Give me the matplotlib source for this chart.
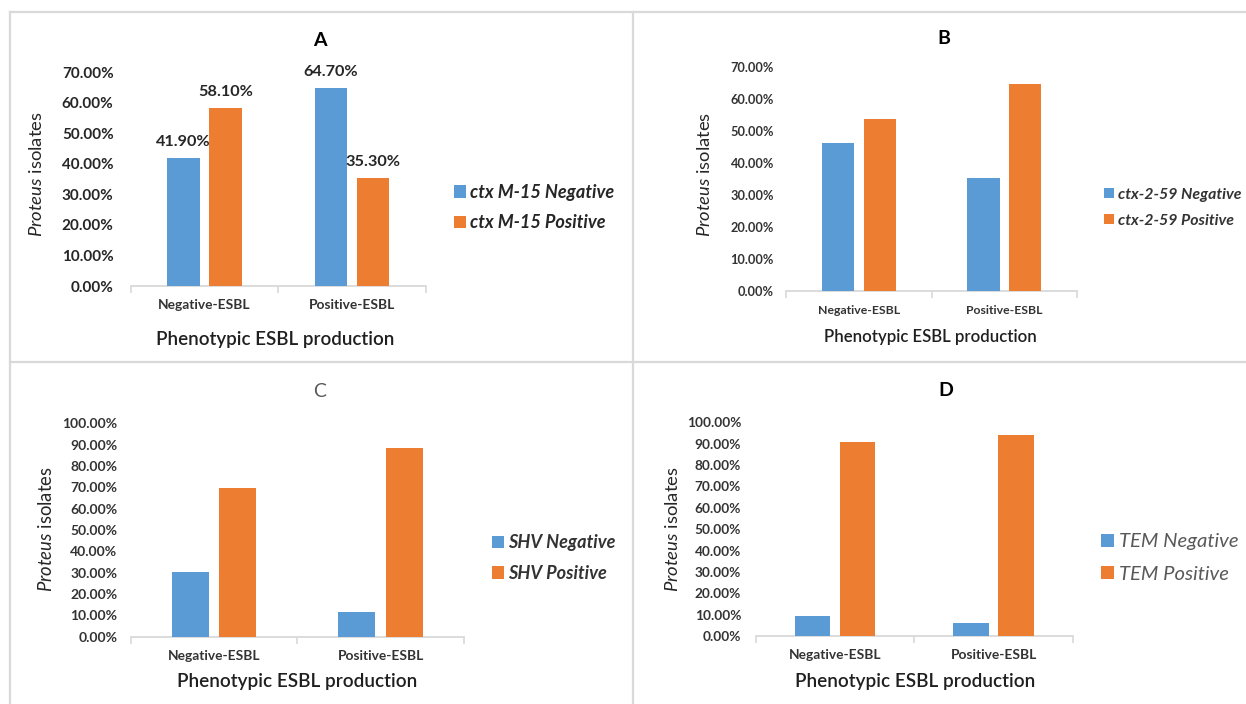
import matplotlib
matplotlib.use("Agg")
import matplotlib.pyplot as plt
from matplotlib.lines import Line2D
import numpy as np

# ---------------- data ----------------
categories = ["Negative-ESBL", "Positive-ESBL"]

a_series = ["ctx M-15 Negative", "ctx M-15 Positive"]
a_neg = [41.9, 64.7]
a_pos = [58.1, 35.3]

b_series = ["ctx-2-59 Negative", "ctx-2-59 Positive"]
b_neg = [46.4, 35.3]
b_pos = [53.6, 64.7]

c_series = ["SHV Negative", "SHV Positive"]
c_neg = [30.2, 11.8]
c_pos = [69.8, 88.2]

d_series = ["TEM Negative", "TEM Positive"]
d_neg = [9.4, 5.9]
d_pos = [90.6, 94.1]

a_ticks = [0, 10, 20, 30, 40, 50, 60, 70]
full_ticks = [0, 10, 20, 30, 40, 50, 60, 70, 80, 90, 100]

titles = ["A", "B", "C", "D"]
xlabel_text = "Phenotypic ESBL production"
ylabel_text = r"$\it{Proteus}$ isolates"

# ---------------- style ----------------
W, H = 1246, 704
BLUE = "#5B9BD5"
ORANGE = "#ED7D31"
GRID = "#D9D9D9"
TXT = "#333333"
FONT = "Lato"

plt.rcParams["font.family"] = [FONT, "DejaVu Sans"]
plt.rcParams["mathtext.fontset"] = "custom"
plt.rcParams["mathtext.rm"] = FONT
plt.rcParams["mathtext.it"] = FONT + ":italic"
plt.rcParams["mathtext.bf"] = FONT + ":bold"

fig = plt.figure(figsize=(W / 100, H / 100), dpi=100)
fig.patch.set_facecolor("white")
renderer = fig.canvas.get_renderer()


def fx(x):
    return x / W


def fy(y):
    return 1 - y / H


def size_for(s, target, **kw):
    t = fig.text(0, 0, s, fontsize=10, **kw)
    bb = t.get_window_extent(renderer)
    t.remove()
    return 10 * target / bb.width


# panel frames
for (x0, y0, x1, y1) in [(10, 12, W, 12), (10, 12, 10, H), (633, 12, 633, H), (10, 362, W, 362)]:
    fig.add_artist(Line2D([fx(x0), fx(x1)], [fy(y0), fy(y1)], transform=fig.transFigure,
                          color=GRID, lw=1.6))

panels = [
    dict(neg=a_neg, pos=a_pos, names=a_series, ticks=a_ticks, ymax=70,
         rect=(130.6, 425.9, 72, 286), tick_w=51.7, tick_str="70.00%", tick_pad=17,
         tick_weight="bold", tick_color="#262626", cat_w=92, cat_y=305,
         title=(320, 41), title_weight="bold", title_color="black",
         ylab=(36, 174, 126), xlab=(275, 340, 237),
         leg=(454, 207.7, 144), leg_weight="bold", leg_color="#262626", values=True),
    dict(neg=b_neg, pos=b_pos, names=b_series, ticks=a_ticks, ymax=70,
         rect=(786.4, 1076.8, 67, 291), tick_w=43, tick_str="70.00%", tick_pad=12.4,
         tick_weight="bold", tick_color=TXT, cat_w=82.5, cat_y=310.7,
         title=(944, 38), title_weight="bold", title_color="black",
         ylab=(705, 174.5, 125.7), xlab=(930.6, 336.7, 211),
         leg=(1104, 207.7, 123.8), leg_weight="bold", leg_color=TXT, values=False),
    dict(neg=c_neg, pos=c_pos, names=c_series, ticks=full_ticks, ymax=100,
         rect=(130.6, 464, 423.3, 636.7), tick_w=55, tick_str="100.00%", tick_pad=13.3,
         tick_weight="bold", tick_color=TXT, cat_w=92.4, cat_y=656,
         title=(320, 392), title_weight="normal", title_color="#595959",
         ylab=(46, 529, 126.7), xlab=(297, 682, 238),
         leg=(492, 558, 107.7), leg_weight="bold", leg_color=TXT, values=False),
    dict(neg=d_neg, pos=d_pos, names=d_series, ticks=full_ticks, ymax=100,
         rect=(755.7, 1072.8, 422.3, 636), tick_w=54, tick_str="100.00%", tick_pad=14.7,
         tick_weight="bold", tick_color=TXT, cat_w=92.3, cat_y=655,
         title=(946, 390), title_weight="bold", title_color="black",
         ylab=(673, 529, 126.3), xlab=(915, 681, 238),
         leg=(1100.7, 558, 119.8), leg_weight="normal", leg_color="#595959", values=False),
]

bar_w = 0.222
off = 0.142
x = np.arange(len(categories))

for i, p in enumerate(panels):
    l, r, t, b = p["rect"]
    ax = fig.add_axes([fx(l), fy(b), (r - l) / W, (b - t) / H])
    ax.set_facecolor("none")
    b1 = ax.bar(x - off, p["neg"], bar_w, color=BLUE, label=p["names"][0], zorder=3)
    b2 = ax.bar(x + off, p["pos"], bar_w, color=ORANGE, label=p["names"][1], zorder=3)
    ax.set_xlim(-0.5, len(categories) - 0.5)
    ax.set_ylim(0, p["ymax"])
    for s in ["top", "right", "left"]:
        ax.spines[s].set_visible(False)
    ax.spines["bottom"].set_color(GRID)
    ax.spines["bottom"].set_linewidth(1.3)

    # y ticks
    tsize = size_for(p["tick_str"], p["tick_w"], fontweight=p["tick_weight"])
    ax.set_yticks(p["ticks"])
    ax.set_yticklabels([f"{v:.2f}%" for v in p["ticks"]], fontsize=tsize,
                       fontweight=p["tick_weight"], color=p["tick_color"])
    ax.tick_params(axis="y", length=0, pad=p["tick_pad"] * 0.72)

    # x ticks
    csize = size_for(categories[0], p["cat_w"], fontweight="bold")
    ax.set_xticks(x)
    ax.set_xticklabels(categories, fontsize=csize, fontweight="bold", color=TXT)
    ax.set_xticks(np.arange(len(categories) + 1) - 0.5, minor=True)
    ax.tick_params(axis="x", which="major", length=0, pad=(p["cat_y"] - b) * 0.72)
    ax.tick_params(axis="x", which="minor", length=5, width=1.2, color=GRID, direction="out")
    for lab in ax.get_xticklabels():
        lab.set_va("center")

    # value labels
    if p["values"]:
        vsize = size_for("41.90%", 55, fontweight="bold")
        for bars in (b1, b2):
            for rect in bars:
                h = rect.get_height()
                ax.annotate(f"{h:.2f}%", xy=(rect.get_x() + rect.get_width() / 2, h),
                            xytext=(0, 16 * 0.72), textcoords="offset points",
                            ha="center", va="center", fontsize=vsize, fontweight="bold",
                            color="#262626")

    # title
    fig.text(fx(p["title"][0]), fy(p["title"][1]), titles[i], ha="center", va="center",
             fontsize=14, fontweight=p["title_weight"], color=p["title_color"])

    # y label
    ysize = size_for(ylabel_text, p["ylab"][2])
    fig.text(fx(p["ylab"][0]), fy(p["ylab"][1]), ylabel_text, rotation=90,
             ha="center", va="center", fontsize=ysize, color="#262626")

    # x label
    xsize = size_for(xlabel_text, p["xlab"][2], fontweight="semibold")
    fig.text(fx(p["xlab"][0]), fy(p["xlab"][1]), xlabel_text, ha="center", va="center",
             fontsize=xsize, fontweight="semibold", color="#1f1f1f")

    # legend
    lsize = size_for(p["names"][0], p["leg"][2], fontweight=p["leg_weight"], fontstyle="italic")
    leg = ax.legend(handles=[b1, b2], loc="center left",
                    bbox_to_anchor=(fx(p["leg"][0]), fy(p["leg"][1])),
                    bbox_transform=fig.transFigure, frameon=False,
                    prop=dict(family=FONT, size=lsize, weight=p["leg_weight"], style="italic"),
                    handlelength=0.65, handleheight=0.65, handletextpad=0.25,
                    labelspacing=0.75, borderpad=0, borderaxespad=0)
    for tx in leg.get_texts():
        tx.set_color(p["leg_color"])

fig.savefig("out.png", dpi=100, facecolor="white")
